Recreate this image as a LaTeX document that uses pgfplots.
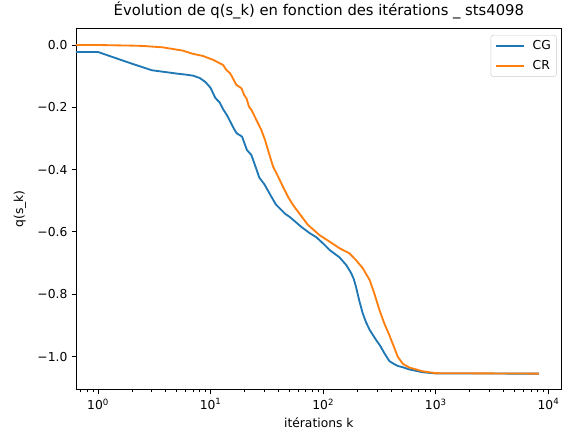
\documentclass[border=0pt]{standalone}
\usepackage{pgfplots}
\pgfplotsset{compat=1.18}
\usepackage{fontspec}
\setmainfont{DejaVu Sans}
\definecolor{cg}{HTML}{1F77B4}
\definecolor{cr}{HTML}{FF7F0E}
\begin{document}
\begin{tikzpicture}
\useasboundingbox (-61.75pt,-38.19pt) rectangle ++(460.69pt,355.06pt);
\begin{axis}[
  scale only axis, width=394.6pt, height=294.1pt,
  xmode=log, xmin=0.637, xmax=13090, ymin=-1.107, ymax=0.0545,
  axis line style={line width=0.8pt},
  tick align=outside, tick pos=left,
  major tick length=3.5pt, minor tick length=2pt,
  every tick/.style={black, line width=0.8pt},
  every minor tick/.style={black, line width=0.6pt},
  xtick={1,10,100,1000,10000},
  xticklabels={10\textsuperscript{0},10\textsuperscript{1},10\textsuperscript{2},10\textsuperscript{3},10\textsuperscript{4}},
  minor xtick={0.7,0.8,0.9,2,3,4,5,6,7,8,9,20,30,40,50,60,70,80,90,200,300,400,500,600,700,800,900,2000,3000,4000,5000,6000,7000,8000,9000},
  ytick={-1.0,-0.8,-0.6,-0.4,-0.2,0.0},
  yticklabels={−1.0,−0.8,−0.6,−0.4,−0.2,0.0},
  ticklabel style={font=\fontsize{10}{12}\selectfont},
  /pgf/number format/assume math mode=true,
  title={Évolution de q(s\_k) en fonction des itérations \_ sts4098},
  title style={at={(axis description cs:0.5,1.0155)}, anchor=base, font=\fontsize{12}{14.4}\selectfont, inner sep=0pt},
  xlabel={itérations k},
  xlabel style={at={(axis description cs:0.5,-0.105)}, anchor=base, font=\fontsize{10}{12}\selectfont, inner sep=0pt},
  ylabel={q(s\_k)},
  ylabel style={at={(axis description cs:-0.1153,0.5)}, anchor=center, font=\fontsize{10}{12}\selectfont, inner sep=0pt},
  legend cell align=left,
  legend style={at={(axis description cs:0.9897,0.9807)}, anchor=north east,
    draw=black!20, rounded corners=2pt, fill=white, fill opacity=0.8, text opacity=1,
    font=\fontsize{10}{12}\selectfont, inner xsep=3pt, inner ysep=2.5pt, row sep=3.5pt,
    nodes={inner sep=1.5pt, text height=7.5pt, text depth=2pt}},
  legend image code/.code={\draw[#1, line width=1.5pt] (0pt,0pt) -- (23pt,0pt); \path (28pt,0pt);},
  every axis plot/.append style={line width=1.5pt, line join=round},
]
\addplot[cg] coordinates {
(0.6,-0.0225) (1,-0.0225) (2,-0.060) (3,-0.081) (4,-0.087) (5,-0.0917) (6,-0.095)
(7,-0.0985) (8,-0.106) (9,-0.119) (10,-0.138) (11,-0.170) (12,-0.184) (13,-0.208)
(14,-0.226) (16,-0.267) (17,-0.283) (19,-0.294) (21,-0.337) (23,-0.353) (25,-0.390)
(27,-0.425) (30,-0.447) (34,-0.482) (38,-0.512) (46,-0.542) (50,-0.551) (54,-0.561)
(64,-0.584) (76,-0.604) (87,-0.617) (99,-0.636) (114,-0.658) (139,-0.681) (160,-0.706)
(177,-0.732) (187,-0.752) (195,-0.775) (208,-0.818) (224,-0.861) (240,-0.890) (258,-0.914) (294,-0.946) (320,-0.965)
(349,-0.989) (386,-1.014) (413,-1.021) (459,-1.030) (509,-1.034) (580,-1.041) (763,-1.050)
(1000,-1.054) (8196,-1.0545)
};
\addlegendentry{CG}
\addplot[cr] coordinates {
(0.6,0.0) (1,0.0) (2,-0.002) (2.5,-0.003) (3.76,-0.0075) (5.65,-0.018) (6.9,-0.028)
(8.5,-0.035) (10.6,-0.048) (11.1,-0.052) (12.9,-0.064) (13.7,-0.079) (14.9,-0.091)
(15.6,-0.104) (16.9,-0.128) (18.8,-0.139) (19.8,-0.160) (20.8,-0.171) (21.9,-0.198)
(23.1,-0.209) (25.5,-0.241) (28.2,-0.273) (30.4,-0.305) (32.3,-0.337) (35.8,-0.390)
(39.7,-0.422) (43.9,-0.455) (48.6,-0.487) (53.8,-0.513) (61.7,-0.542) (73,-0.577)
(92.6,-0.610) (113.8,-0.631) (139,-0.652) (170,-0.668) (195,-0.690) (224,-0.716)
(258,-0.754) (284,-0.797) (315,-0.850) (348,-0.893) (385,-0.930) (426,-0.970)
(458,-1.000) (509,-1.023) (581,-1.035) (623,-1.038) (763,-1.047) (1000,-1.053) (8196,-1.0545)
};
\addlegendentry{CR}
\end{axis}
\end{tikzpicture}
\end{document}
